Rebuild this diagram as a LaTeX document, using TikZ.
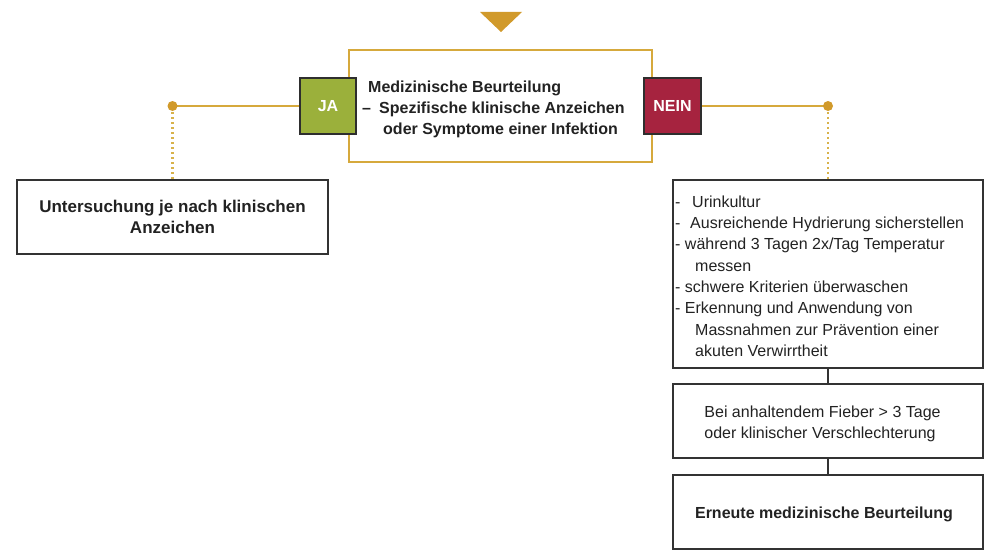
\documentclass[tikz,border=0pt]{standalone}
\usepackage{fontspec}
\setmainfont{Liberation Sans}
\definecolor{gold}{HTML}{D6A93C}
\definecolor{golddot}{HTML}{D8B24A}
\definecolor{golddark}{HTML}{D19A2B}
\definecolor{boxline}{HTML}{333333}
\definecolor{jagreen}{HTML}{9BB03B}
\definecolor{neinred}{HTML}{A6233F}
\definecolor{txt}{HTML}{222222}
\begin{document}
\begin{tikzpicture}[x=1pt,y=-1pt,
  box/.style={draw=boxline, line width=1.4pt, fill=white, inner sep=0pt},
  mainbox/.style={draw=gold, line width=1.6pt, fill=white, inner sep=0pt},
  tag/.style={draw=boxline!90!black, line width=1.6pt, inner sep=0pt, text=white,
    font=\bfseries\fontsize{16}{19}\selectfont},
  hline/.style={draw=gold, line width=1.5pt},
  dotline/.style={draw=golddot, line width=2.8pt, dash pattern=on 2.4pt off 2.6pt},
  conn/.style={draw=boxline, line width=1.5pt},
  dot/.style={circle, fill=golddark, minimum size=10pt, inner sep=0pt},
  btxt/.style={text=txt, inner sep=0pt, font=\bfseries\fontsize{16}{21}\selectfont},
  rtxt/.style={text=txt, inner sep=0pt, font=\fontsize{16}{21}\selectfont},
  line/.style={anchor=base west, rtxt},
  mline/.style={anchor=base west, btxt}]
\useasboundingbox (0,0) rectangle (992,551);
% top triangle
\fill[golddark] (480,12) -- (522,12) -- (501,32) -- cycle;
% main box
\node[mainbox, minimum width=303pt, minimum height=112pt] (main) at (500.5,106) {};
\node[mline] (m1) at (368,92.7) {Medizinische Beurteilung};
\node[mline] (m2) at (362,113.7) {\makebox[17pt][l]{–}Spezifische klinische Anzeichen};
\node[mline] (m3) at (383,134.5) {oder Symptome einer Infektion};
% tags
\node[tag, fill=jagreen, minimum width=56pt, minimum height=56pt] (ja) at (328,106) {JA};
\node[tag, fill=neinred, minimum width=57pt, minimum height=56pt] (nein) at (672.5,106) {NEIN};
% dot positions
\coordinate (ldot) at (172.5,106);
\coordinate (rdot) at (828,106);
% left box
\node[box, minimum width=311pt, minimum height=74pt, align=center, btxt,
  font=\bfseries\fontsize{17}{21}\selectfont] (left) at (172.5,217)
  {Untersuchung je nach klinischen\\Anzeichen};
% right boxes
\node[box, minimum width=310pt, minimum height=188pt] (right) at (828,274) {};
\node[line] (r1) at (675,207.3) {\makebox[17pt][l]{-}Urinkultur};
\node[line] (r2) at (675,228.6) {\makebox[15pt][l]{-}Ausreichende Hydrierung sicherstellen};
\node[line] (r3) at (675,249.9) {- während 3 Tagen 2x/Tag Temperatur};
\node[line] (r4) at (695,271.2) {messen};
\node[line] (r5) at (675,292.5) {- schwere Kriterien überwaschen};
\node[line] (r6) at (675,313.8) {- Erkennung und Anwendung von};
\node[line] (r7) at (695,335.1) {Massnahmen zur Prävention einer};
\node[line] (r8) at (695,356.4) {akuten Verwirrtheit};
\node[box, minimum width=310pt, minimum height=74pt] (b2) at (828,421) {};
\node[rtxt, align=left] (b2t) at (822.5,423.5) {Bei anhaltendem Fieber > 3 Tage\\oder klinischer Verschlechterung};
\node[box, minimum width=310pt, minimum height=74pt] (b3) at (828,512) {};
\node[btxt] (b3t) at (824,514) {Erneute medizinische Beurteilung};
% connectors
\draw[hline] (ja.west) -- (ldot);
\draw[hline] (nein.east) -- (rdot);
\draw[dotline] ([yshift=-6pt]ldot) -- (left.north);
\draw[dotline] ([yshift=-6pt]rdot) -- (right.north);
\node[dot] (ld) at (ldot) {};
\node[dot] (rd) at (rdot) {};
\draw[conn] (right.south) -- (b2.north);
\draw[conn] (b2.south) -- (b3.north);
\end{tikzpicture}
\end{document}
